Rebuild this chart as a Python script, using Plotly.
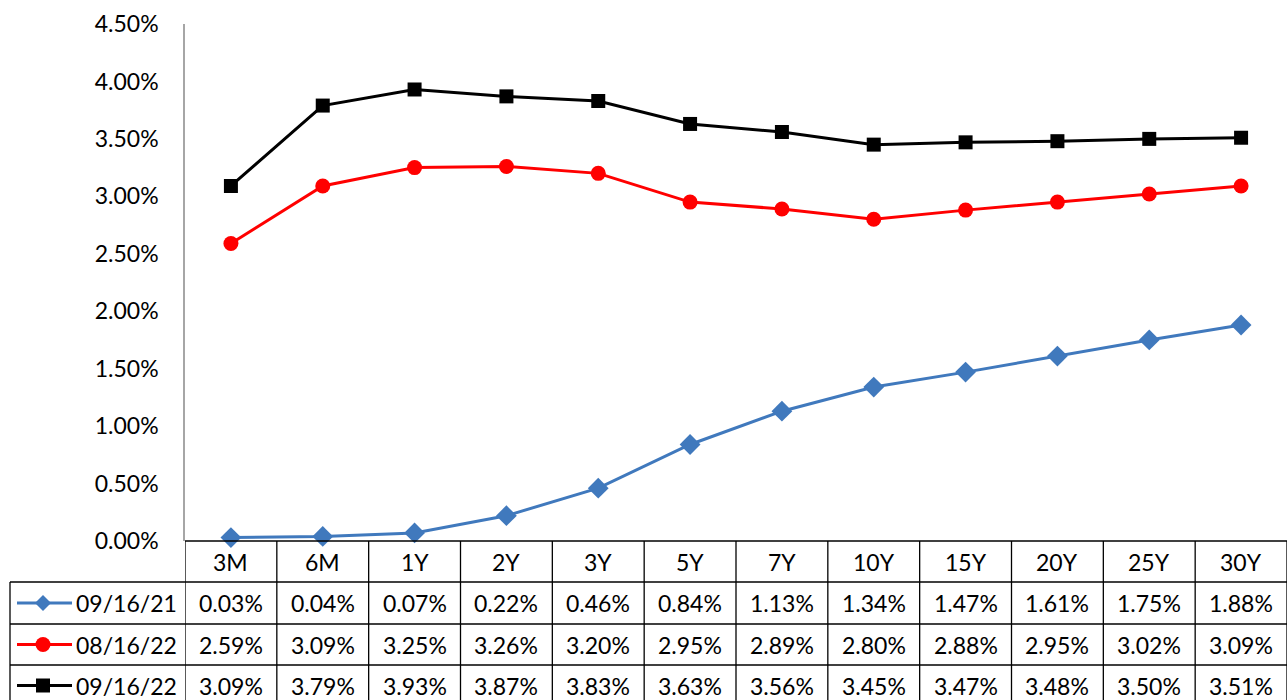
import plotly.graph_objects as go

categories = ["3M", "6M", "1Y", "2Y", "3Y", "5Y", "7Y", "10Y", "15Y", "20Y", "25Y", "30Y"]
series_names = ["09/16/21", "08/16/22", "09/16/22"]
s_2021_09 = [0.03, 0.04, 0.07, 0.22, 0.46, 0.84, 1.13, 1.34, 1.47, 1.61, 1.75, 1.88]
s_2022_08 = [2.59, 3.09, 3.25, 3.26, 3.20, 2.95, 2.89, 2.80, 2.88, 2.95, 3.02, 3.09]
s_2022_09 = [3.09, 3.79, 3.93, 3.87, 3.83, 3.63, 3.56, 3.45, 3.47, 3.48, 3.50, 3.51]
y_ticks = [0, 0.5, 1.0, 1.5, 2.0, 2.5, 3.0, 3.5, 4.0, 4.5]

series_values = [s_2021_09, s_2022_08, s_2022_09]
colors = ["#4079BD", "#FF0000", "#000000"]
symbols = ["diamond", "circle", "square"]
msizes = [16, 15, 14]

W, H = 1287, 700
L, R, T, B = 185, 0, 24, 159
PW = W - L - R
PH = H - T - B
FONT = "Lato"
FS = 23

def px_x(x):
    return (x - L) / PW

def px_y(y):
    return (H - B - y) / PH

fig = go.Figure()
for name, vals, c, s, ms in zip(series_names, series_values, colors, symbols, msizes):
    fig.add_trace(go.Scatter(
        x=categories, y=[v / 100 for v in vals], name=name, mode="lines+markers",
        line=dict(color=c, width=3), marker=dict(symbol=s, size=ms, color=c),
        showlegend=False, cliponaxis=False))

shapes = []
annotations = []
LINE = dict(color="#000000", width=1.3)
n = len(categories)
row_bounds = [541, 582, 624, 665, 706]

shapes.append(dict(type="line", xref="x", yref="paper", x0=-0.5, x1=n - 0.5,
                   y0=px_y(541), y1=px_y(541), line=LINE))
for yb in row_bounds[1:4]:
    shapes.append(dict(type="line", xref="paper", yref="paper", x0=px_x(10), x1=1,
                       y0=px_y(yb), y1=px_y(yb), line=LINE))
for k in range(n + 1):
    shapes.append(dict(type="line", xref="x", yref="paper", x0=k - 0.5, x1=k - 0.5,
                       y0=px_y(541), y1=px_y(706), line=LINE))
shapes.append(dict(type="line", xref="paper", yref="paper", x0=px_x(10), x1=px_x(10),
                   y0=px_y(582), y1=px_y(706), line=LINE))

for c in categories:
    annotations.append(dict(x=c, xref="x", y=px_y(561.5), yref="paper", text=c,
                            showarrow=False, font=dict(family=FONT, size=FS, color="#000"),
                            xanchor="center", yanchor="middle"))

for r, (name, vals, col, sym) in enumerate(zip(series_names, series_values, colors, symbols)):
    yc = (row_bounds[r + 1] + row_bounds[r + 2]) / 2
    for c, v in zip(categories, vals):
        annotations.append(dict(x=c, xref="x", y=px_y(yc), yref="paper", text=f"{v:.2f}%",
                                showarrow=False, font=dict(family=FONT, size=FS, color="#000"),
                                xanchor="center", yanchor="middle"))
    annotations.append(dict(x=px_x(74), xref="paper", y=px_y(yc), yref="paper", text=name,
                            showarrow=False, font=dict(family=FONT, size=FS, color="#000"),
                            xanchor="left", yanchor="middle"))
    shapes.append(dict(type="line", xref="paper", yref="paper", x0=px_x(17), x1=px_x(72),
                       y0=px_y(yc), y1=px_y(yc), line=dict(color=col, width=3)))
    cx, cy = 43, yc
    if sym == "diamond":
        path = (f"M {px_x(cx - 8)} {px_y(cy)} L {px_x(cx)} {px_y(cy - 8)} "
                f"L {px_x(cx + 8)} {px_y(cy)} L {px_x(cx)} {px_y(cy + 8)} Z")
        shapes.append(dict(type="path", xref="paper", yref="paper", path=path,
                           fillcolor=col, line=dict(width=0)))
    elif sym == "circle":
        shapes.append(dict(type="circle", xref="paper", yref="paper",
                           x0=px_x(cx - 7.5), x1=px_x(cx + 7.5), y0=px_y(cy + 7.5), y1=px_y(cy - 7.5),
                           fillcolor=col, line=dict(width=0)))
    else:
        shapes.append(dict(type="rect", xref="paper", yref="paper",
                           x0=px_x(cx - 7), x1=px_x(cx + 7), y0=px_y(cy + 7), y1=px_y(cy - 7),
                           fillcolor=col, line=dict(width=0)))

fig.update_layout(
    width=W, height=H,
    margin=dict(l=L, r=R, t=T, b=B),
    paper_bgcolor="white", plot_bgcolor="white",
    font=dict(family=FONT, size=FS, color="#000"),
    xaxis=dict(type="category", range=[-0.5, n - 0.5], showticklabels=False,
               showgrid=False, zeroline=False, showline=False, ticks=""),
    yaxis=dict(range=[0, 0.045], tickvals=[v / 100 for v in y_ticks], tickformat=".2%",
               showgrid=False, zeroline=False, showline=True, linecolor="#A6A6A6",
               linewidth=1.5, ticks="", ticklabelstandoff=20,
               tickfont=dict(family=FONT, size=FS, color="#000")),
    shapes=shapes, annotations=annotations,
)
fig.write_html("out.html", config={"displayModeBar": False})

with open("out.html", "r", encoding="utf-8") as f:
    html = f.read()
html = html.replace("<head>", "<head><style>html,body{margin:0;padding:0;overflow:hidden;}</style>", 1)
with open("out.html", "w", encoding="utf-8") as f:
    f.write(html)
